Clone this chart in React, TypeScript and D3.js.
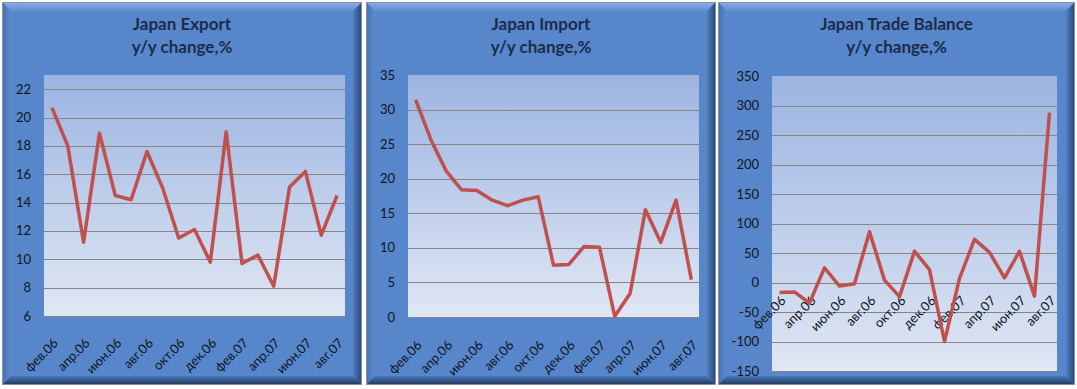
import React from 'react';
import * as d3 from 'd3';

// months, Feb 2006 .. Aug 2007
const months = [
  'фев.06', 'мар.06', 'апр.06', 'май.06', 'июн.06', 'июл.06', 'авг.06', 'сен.06', 'окт.06', 'ноя.06',
  'дек.06', 'янв.07', 'фев.07', 'мар.07', 'апр.07', 'май.07', 'июн.07', 'июл.07', 'авг.07',
];

const exportValues = [20.7, 18.0, 11.2, 18.9, 14.5, 14.2, 17.6, 15.0, 11.5, 12.1, 9.8, 19.0, 9.7, 10.3, 8.1, 15.1, 16.2, 11.7, 14.5];
const importValues = [31.4, 25.6, 21.1, 18.4, 18.3, 16.9, 16.1, 16.9, 17.4, 7.5, 7.6, 10.2, 10.1, 0.1, 3.4, 15.5, 10.8, 16.9, 5.4];
const balanceValues = [-17, -16, -35, 25, -6, -2, 86, 4, -24, 53, 22, -100, 7, 73, 51, 8, 53, -23, 288];

const exportTicks = [6, 8, 10, 12, 14, 16, 18, 20, 22];
const importTicks = [0, 5, 10, 15, 20, 25, 30, 35];
const balanceTicks = [-150, -100, -50, 0, 50, 100, 150, 200, 250, 300, 350];

const FONT = 'Lato, "Open Sans", sans-serif';

type PanelProps = {
  id: string;
  title: string;
  values: number[];
  ticks: number[];
  domain: [number, number];
  frame: { x: number; y: number; w: number; h: number };
  plot: { x0: number; x1: number; y0: number; y1: number };
  labelDy: number;
};

const Panel = ({ id, title, values, ticks, domain, frame, plot, labelDy }: PanelProps) => {
  const { x, y, w, h } = frame;
  const b = 8;

  const xs = d3.scaleBand().domain(months).range([plot.x0, plot.x1]).padding(0);
  const ys = d3.scaleLinear().domain(domain).range([plot.y1, plot.y0]);
  const cx = (m: string) => (xs(m) ?? 0) + xs.bandwidth() / 2;

  const line = d3
    .line<number>()
    .x((_, i) => cx(months[i]))
    .y((d) => ys(d));

  // category labels sit on the axis crossing (0 if in range, else the min)
  const axisY = domain[0] < 0 ? ys(0) : ys(domain[0]);
  const midX = x + w / 2;

  return (
    <g>
      <defs>
        <linearGradient id={`${id}-plot`} x1="0" y1="0" x2="0" y2="1">
          <stop offset="0" stopColor="#9cb4e1" />
          <stop offset="1" stopColor="#e0e7f4" />
        </linearGradient>
        <linearGradient id={`${id}-top`} x1="0" y1="0" x2="0" y2="1">
          <stop offset="0" stopColor="#82acE6" />
          <stop offset="1" stopColor="#5f90d4" />
        </linearGradient>
        <linearGradient id={`${id}-left`} x1="0" y1="0" x2="1" y2="0">
          <stop offset="0" stopColor="#4672b3" />
          <stop offset="1" stopColor="#5b8bcf" />
        </linearGradient>
        <linearGradient id={`${id}-right`} x1="0" y1="0" x2="1" y2="0">
          <stop offset="0" stopColor="#5080c2" />
          <stop offset="1" stopColor="#2c4a7a" />
        </linearGradient>
        <linearGradient id={`${id}-bottom`} x1="0" y1="0" x2="0" y2="1">
          <stop offset="0" stopColor="#4a78b8" />
          <stop offset="1" stopColor="#243c63" />
        </linearGradient>
      </defs>

      {/* beveled frame */}
      <rect x={x} y={y} width={w} height={h} fill="#5787ca" />
      <polygon points={`${x},${y} ${x + w},${y} ${x + w - b},${y + b} ${x + b},${y + b}`} fill={`url(#${id}-top)`} />
      <polygon points={`${x},${y} ${x + b},${y + b} ${x + b},${y + h - b} ${x},${y + h}`} fill={`url(#${id}-left)`} />
      <polygon points={`${x + w},${y} ${x + w},${y + h} ${x + w - b},${y + h - b} ${x + w - b},${y + b}`} fill={`url(#${id}-right)`} />
      <polygon points={`${x},${y + h} ${x + w},${y + h} ${x + w - b},${y + h - b} ${x + b},${y + h - b}`} fill={`url(#${id}-bottom)`} />
      <rect x={x - 0.5} y={y - 0.5} width={w + 1} height={h + 1} fill="none" stroke="#8a8f99" />

      {/* title */}
      <text x={midX} y={y + 27} textAnchor="middle" fontFamily={FONT} fontWeight="bold" fontSize={17} fill="#1c2b4a">
        {title}
      </text>
      <text x={midX} y={y + 50} textAnchor="middle" fontFamily={FONT} fontWeight="bold" fontSize={17} fill="#1c2b4a">
        y/y change,%
      </text>

      {/* plot area */}
      <rect x={plot.x0} y={plot.y0} width={plot.x1 - plot.x0} height={plot.y1 - plot.y0} fill={`url(#${id}-plot)`} />
      {ticks
        .filter((t) => t !== domain[1])
        .map((t) => (
          <line key={t} x1={plot.x0} x2={plot.x1} y1={Math.round(ys(t)) + 0.5} y2={Math.round(ys(t)) + 0.5} stroke="#868686" strokeWidth={1} />
        ))}

      {/* y tick labels */}
      {ticks.map((t) => (
        <text key={t} x={plot.x0 - 13} y={ys(t)} dy="0.35em" textAnchor="end" fontFamily={FONT} fontSize={13} fill="#0f1424">
          {t}
        </text>
      ))}

      {/* x labels every other month */}
      {months.map((m, i) =>
        i % 2 === 0 ? (
          <text
            key={m}
            transform={`translate(${cx(m) + 7},${axisY + labelDy}) rotate(-45)`}
            textAnchor="end"
            fontFamily={FONT}
            fontSize={13}
            fill="#0f1424"
          >
            {m}
          </text>
        ) : null
      )}

      <path d={line(values) ?? ''} fill="none" stroke="#c0504d" strokeWidth={3.5} strokeLinejoin="round" />
    </g>
  );
};

export default function App() {
  return (
    <svg width={1077} height={389} style={{ position: 'absolute', left: 0, top: 0 }}>
      <rect width={1077} height={389} fill="#ffffff" />
      <Panel
        id="exp"
        title="Japan Export"
        values={exportValues}
        ticks={exportTicks}
        domain={[6, 23]}
        frame={{ x: 3, y: 3, w: 358, h: 381 }}
        plot={{ x0: 44, x1: 345, y0: 75, y1: 316 }}
        labelDy={28}
      />
      <Panel
        id="imp"
        title="Japan Import"
        values={importValues}
        ticks={importTicks}
        domain={[0, 35]}
        frame={{ x: 367, y: 3, w: 348, h: 381 }}
        plot={{ x0: 408, x1: 699, y0: 75, y1: 317 }}
        labelDy={29}
      />
      <Panel
        id="bal"
        title="Japan Trade Balance"
        values={balanceValues}
        ticks={balanceTicks}
        domain={[-150, 350]}
        frame={{ x: 719, y: 3, w: 355, h: 381 }}
        plot={{ x0: 772, x1: 1057, y0: 76, y1: 371 }}
        labelDy={19}
      />
    </svg>
  );
}
